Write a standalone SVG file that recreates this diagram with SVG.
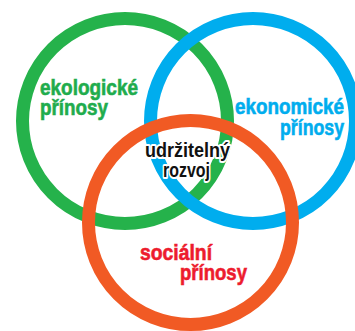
<svg xmlns="http://www.w3.org/2000/svg" width="355" height="331" viewBox="0 0 355 331">
<style>
.ring{fill:none;stroke-width:13}
.lbl{font-family:"Liberation Sans",Arial,sans-serif;font-weight:bold;font-size:22px;stroke-width:0.6}
.ctr{font-family:"Liberation Sans",Arial,sans-serif;font-weight:bold;font-size:21px;fill:#111;stroke:#fff;stroke-width:4;stroke-linejoin:round;paint-order:stroke}
</style>
<rect width="355" height="331" fill="#fff"/>
<g id="ecology">
<circle class="ring" cx="125" cy="121" r="102.5" stroke="#25b24b"/>
<text class="lbl" fill="#1fac4d" stroke="#1fac4d" x="40" y="95" textLength="98" lengthAdjust="spacingAndGlyphs">ekologické</text>
<text class="lbl" fill="#1fac4d" stroke="#1fac4d" x="40" y="115" textLength="68" lengthAdjust="spacingAndGlyphs">přínosy</text>
</g>
<g id="economy">
<circle class="ring" cx="253" cy="121" r="102.5" stroke="#00adee"/>
<text class="lbl" fill="#00adee" stroke="#00adee" x="235" y="114" textLength="109" lengthAdjust="spacingAndGlyphs">ekonomické</text>
<text class="lbl" fill="#00adee" stroke="#00adee" x="280" y="135" textLength="64" lengthAdjust="spacingAndGlyphs">přínosy</text>
</g>
<g id="social">
<circle class="ring" cx="190.5" cy="222.5" r="102" stroke="#f15a24"/>
<text class="lbl" fill="#ed1c2e" stroke="#ed1c2e" x="140" y="260" textLength="72" lengthAdjust="spacingAndGlyphs">sociální</text>
<text class="lbl" fill="#ed1c2e" stroke="#ed1c2e" x="180" y="280" textLength="67" lengthAdjust="spacingAndGlyphs">přínosy</text>
</g>
<g id="sustainable">
<text class="ctr" x="145" y="157" textLength="85" lengthAdjust="spacingAndGlyphs">udržitelný</text>
<text class="ctr" x="163" y="177" textLength="47" lengthAdjust="spacingAndGlyphs">rozvoj</text>
</g>
<g id="connectors"/>
</svg>
